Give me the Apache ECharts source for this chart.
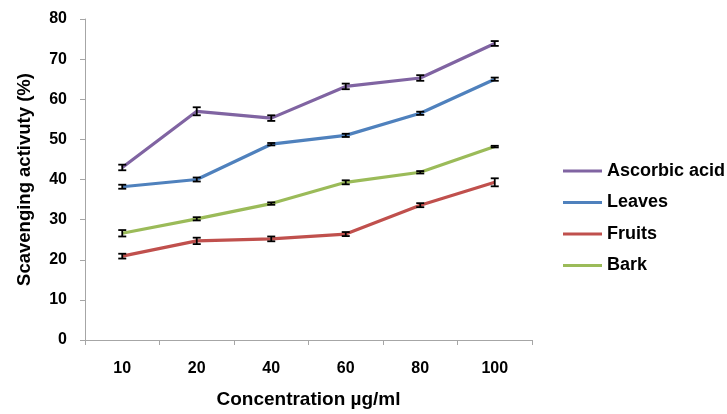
<!DOCTYPE html>
<html><head><meta charset="utf-8">
<script src="https://cdn.jsdelivr.net/npm/echarts@6/dist/echarts.min.js"></script>
<style>html,body{margin:0;padding:0;background:#fff}#c{width:727px;height:414px}</style>
</head><body><div id="c"></div>
<script>
var categories = ['10','20','40','60','80','100'];
var seriesNames = ['Ascorbic acid','Leaves','Fruits','Bark'];
var ascorbic = [43.0, 57.0, 55.3, 63.2, 65.3, 73.9];
var leaves   = [38.2, 40.0, 48.8, 51.0, 56.5, 65.0];
var fruits   = [20.9, 24.7, 25.2, 26.4, 33.6, 39.3];
var bark     = [26.6, 30.2, 34.0, 39.3, 41.8, 48.2];
var ascorbicErr = [0.7, 1.0, 0.7, 0.7, 0.7, 0.6];
var leavesErr   = [0.5, 0.5, 0.3, 0.4, 0.4, 0.4];
var fruitsErr   = [0.6, 0.8, 0.6, 0.5, 0.5, 1.0];
var barkErr     = [0.8, 0.4, 0.3, 0.5, 0.3, 0.2];
var colors = ['#8064A2','#4F81BD','#C0504D','#9BBB59'];

var values = [ascorbic, leaves, fruits, bark];
var errs = [ascorbicErr, leavesErr, fruitsErr, barkErr];
var font = 'Liberation Sans, Arial, sans-serif';

function errData(v, e){ return v.map(function(x,i){ return [i, x - e[i], x + e[i]]; }); }
function renderErr(params, api){
  var lo = api.coord([api.value(0), api.value(1)]);
  var hi = api.coord([api.value(0), api.value(2)]);
  var w = 4;
  var st = {stroke:'#000', lineWidth:1.8};
  return {type:'group', children:[
    {type:'line', shape:{x1:lo[0],y1:lo[1],x2:hi[0],y2:hi[1]}, style:st},
    {type:'line', shape:{x1:lo[0]-w,y1:lo[1],x2:lo[0]+w,y2:lo[1]}, style:st},
    {type:'line', shape:{x1:hi[0]-w,y1:hi[1],x2:hi[0]+w,y2:hi[1]}, style:st}
  ]};
}

var series = [];
values.forEach(function(v,k){
  series.push({name:seriesNames[k], type:'line', data:v, symbol:'none',
    lineStyle:{width:3.2, color:colors[k]}, itemStyle:{color:colors[k]}, z:2, animation:false});
});
values.forEach(function(v,k){
  series.push({type:'custom', data:errData(v, errs[k]), renderItem:renderErr, z:3, animation:false,
    encode:{x:0, y:[1,2]}});
});

var chart = echarts.init(document.getElementById('c'));
chart.setOption({
  animation:false,
  grid:{left:85, right:195, top:19, bottom:74},
  legend:{data:seriesNames, orient:'vertical', left:563, top:161, padding:0, itemWidth:39, itemHeight:3,
    icon:'rect', itemGap:11.5, textStyle:{fontFamily:font, fontWeight:'bold', fontSize:18, color:'#000', lineHeight:20}},
  xAxis:{type:'category', data:categories, boundaryGap:true,
    name:'Concentration µg/ml', nameLocation:'middle', nameGap:50,
    nameTextStyle:{fontFamily:font, fontWeight:'bold', fontSize:19, color:'#000'},
    axisLine:{lineStyle:{color:'#A6A6A6', width:1}},
    axisTick:{show:true, length:5, lineStyle:{color:'#A6A6A6'}},
    axisLabel:{margin:21, fontFamily:font, fontWeight:'bold', fontSize:16, color:'#000'},
    splitLine:{show:false}},
  yAxis:{type:'value', min:0, max:80, interval:10,
    name:'Scavenging activuty (%)', nameLocation:'middle', nameGap:51,
    nameTextStyle:{fontFamily:font, fontWeight:'bold', fontSize:18.5, color:'#000'},
    axisLine:{show:true, lineStyle:{color:'#A6A6A6', width:1}},
    axisTick:{show:true, length:5, lineStyle:{color:'#A6A6A6'}},
    axisLabel:{margin:18, fontFamily:font, fontWeight:'bold', fontSize:16, color:'#000'},
    splitLine:{show:false}},
  series:series
});
</script></body></html>
